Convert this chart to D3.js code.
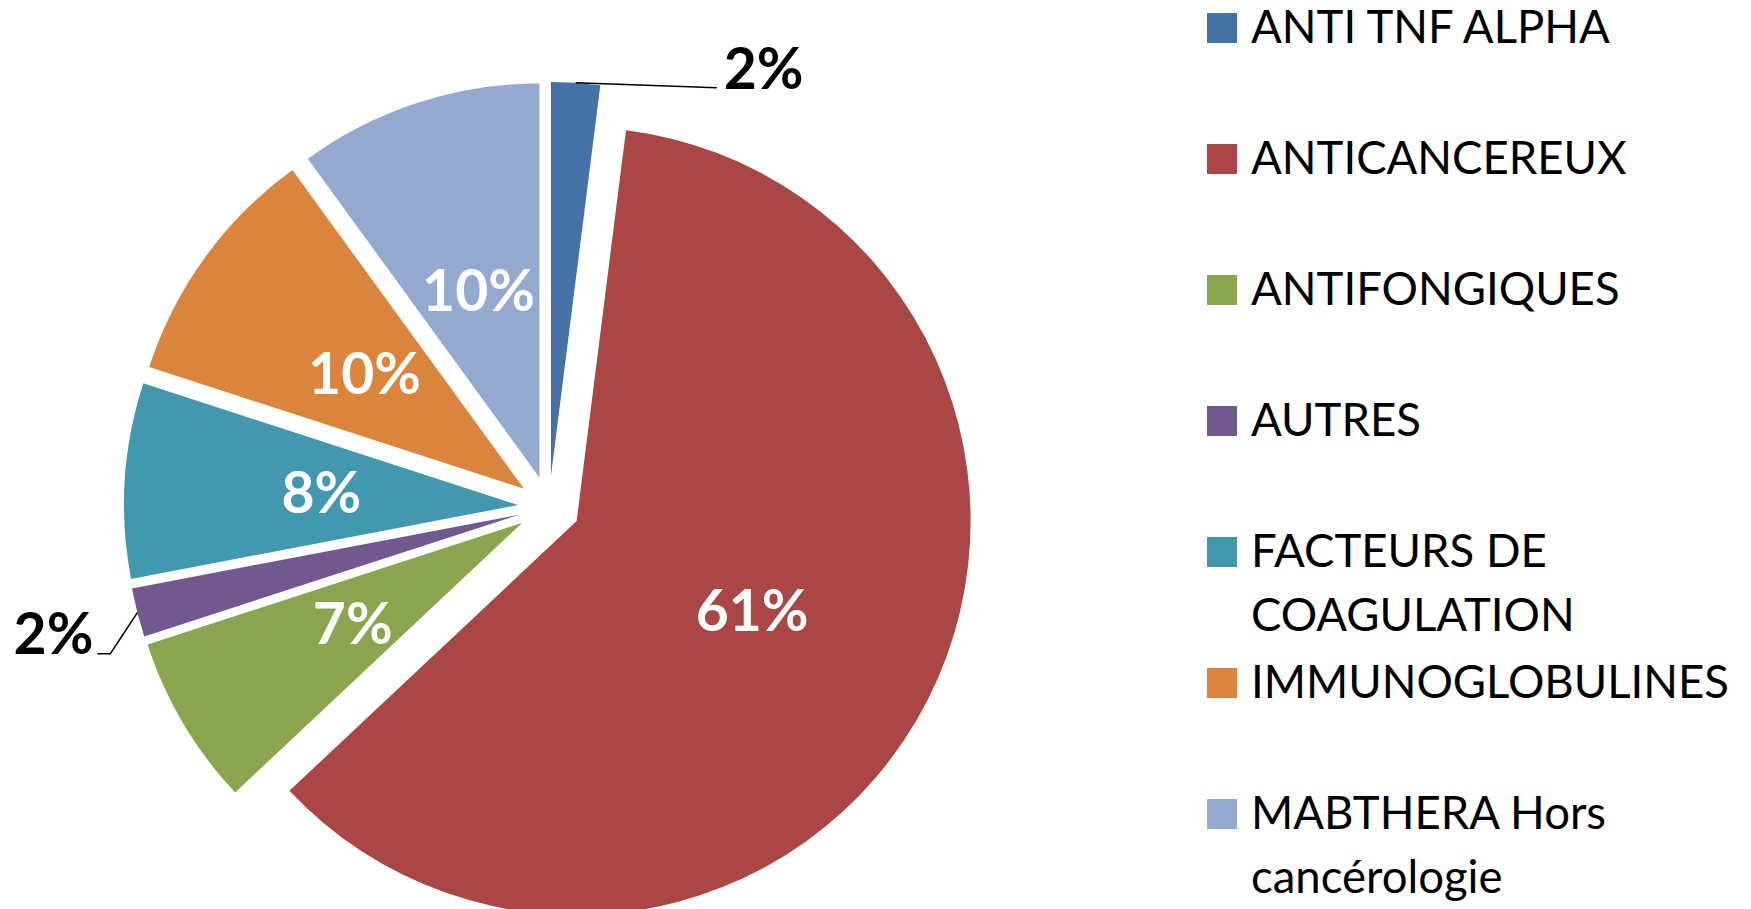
<!doctype html>
<html>
<head>
<meta charset="utf-8">
<style>
  body { margin: 0; background: #fff; }
  svg { display: block; }
  .lbl { font-family: Lato, "Open Sans", sans-serif; font-weight: 700; }
  .leg { font-family: Lato, "Open Sans", sans-serif; }
</style>
<script src="https://d3js.org/d3.v7.min.js"></script>
</head>
<body>
<svg id="chart" width="1751" height="909"></svg>
<script>
// data (percent of total)
var categories = ["ANTI TNF ALPHA", "ANTICANCEREUX", "ANTIFONGIQUES", "AUTRES",
                  "FACTEURS DE COAGULATION", "IMMUNOGLOBULINES", "MABTHERA Hors cancérologie"];
var values = [2, 61, 7, 2, 8, 10, 10];
var labels = ["2%", "61%", "7%", "2%", "8%", "10%", "10%"];
var colors = ["#4572A7", "#AA4643", "#89A54E", "#71588F", "#4198AF", "#DB843D", "#93A9CF"];

var svg = d3.select("#chart");

var cx = 549, cy = 507, R = 394, explode = 31;

var pie = d3.pie().sort(null).value(function(d) { return d; });
var arcs = pie(values);
var arc = d3.arc().innerRadius(0).outerRadius(R);

function mid(d) { return (d.startAngle + d.endAngle) / 2; }
function offset(d, r) {
  var a = mid(d);
  return [r * Math.sin(a), -r * Math.cos(a)];
}

var g = svg.append("g").attr("transform", "translate(" + cx + "," + cy + ")");

var slices = g.selectAll(".slice")
  .data(arcs)
  .enter().append("g")
  .attr("class", "slice")
  .attr("transform", function(d) {
    var o = offset(d, explode);
    return "translate(" + o[0] + "," + o[1] + ")";
  });

slices.append("path")
  .attr("d", arc)
  .attr("fill", function(d, i) { return colors[i]; });

// inside labels for big slices
slices.filter(function(d) { return d.data >= 5; })
  .append("text")
  .attr("class", "lbl")
  .attr("transform", function(d) { return "translate(" + arc.centroid(d) + ")"; })
  .attr("text-anchor", "middle")
  .attr("dy", "0.36em")
  .attr("font-size", "57px")
  .attr("fill", "#fff")
  .text(function(d) { return labels[d.index]; });

// outside labels with leader lines for small slices
var small = slices.filter(function(d) { return d.data < 5; });

small.each(function(d) {
  var p = offset(d, R);
  var sel = d3.select(this);
  var right = mid(d) < Math.PI;
  var pts, tx, ty;
  if (right) {
    pts = [p, [p[0] + 141, p[1] + 5]];
    tx = p[0] + 148; ty = p[1] + 6;
  } else {
    pts = [p, [p[0] - 27, p[1] + 41], [p[0] - 40, p[1] + 41]];
    tx = p[0] - 44; ty = p[1] + 41;
  }
  sel.append("path")
    .attr("d", d3.line()(pts))
    .attr("fill", "none")
    .attr("stroke", "#000")
    .attr("stroke-width", 1.5);
  sel.append("text")
    .attr("class", "lbl")
    .attr("x", tx)
    .attr("y", ty)
    .attr("text-anchor", right ? "start" : "end")
    .attr("font-size", "57px")
    .attr("fill", "#000")
    .text(labels[d.index]);
});

// legend
var legX = 1207, legTop = 29, legStep = 131, sw = 30, lineH = 64, wrapW = 480;

var leg = svg.append("g");
var items = leg.selectAll(".item")
  .data(categories)
  .enter().append("g")
  .attr("class", "item")
  .attr("transform", function(d, i) { return "translate(" + legX + "," + (legTop + i * legStep) + ")"; });

items.append("rect")
  .attr("x", 0)
  .attr("y", 14 - sw)
  .attr("width", sw)
  .attr("height", sw)
  .attr("fill", function(d, i) { return colors[i]; });

items.append("text")
  .attr("class", "leg")
  .attr("x", 44)
  .attr("y", 14)
  .attr("font-size", "45.5px")
  .attr("fill", "#000")
  .each(function(d) {
    var t = d3.select(this);
    var words = d.split(" ");
    var line = [];
    var ts = t.append("tspan").attr("x", 44).attr("y", 14);
    var n = 0;
    words.forEach(function(w) {
      line.push(w);
      ts.text(line.join(" "));
      if (ts.node().getComputedTextLength() > wrapW && line.length > 1) {
        line.pop();
        ts.text(line.join(" "));
        line = [w];
        n++;
        ts = t.append("tspan").attr("x", 44).attr("y", 14 + n * lineH).text(w);
      }
    });
  });
</script>
</body>
</html>
